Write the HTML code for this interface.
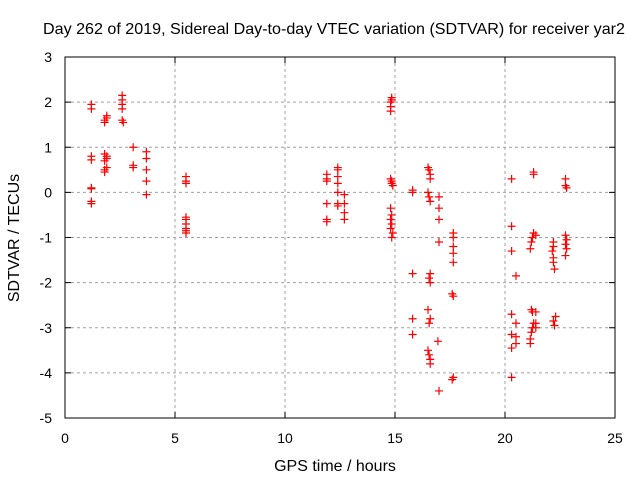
<!DOCTYPE html>
<html><head><meta charset="utf-8"><style>
body{margin:0;background:#fff}
svg text{font-family:"Liberation Sans",sans-serif;font-size:14px;fill:#000}
svg text.big{font-size:16px}
</style></head><body>
<svg id="c" width="640" height="480">
<text class="big" x="334" y="34" text-anchor="middle" textLength="582" lengthAdjust="spacingAndGlyphs">Day 262 of 2019, Sidereal Day-to-day VTEC variation (SDTVAR) for receiver yar2</text>
<text class="big" x="335" y="471" text-anchor="middle">GPS time / hours</text>
<text class="big" transform="translate(19,238) rotate(-90)" text-anchor="middle">SDTVAR / TECUs</text>
<g id="grid"></g><g id="ticks"></g><g id="pts"></g>
<rect x="65" y="57" width="550" height="361" fill="none" stroke="#000" stroke-width="1"/>
</svg>
<script>
const xTicks=[0,5,10,15,20,25];
const yTicks=[3,2,1,0,-1,-2,-3,-4,-5];
const xs=[1.2,1.2,1.2,1.2,1.2,1.2,1.2,1.2,
1.8,1.8,1.9,1.9,1.8,1.9,1.8,1.9,1.8,1.8,1.9,
2.6,2.6,2.6,2.6,2.6,2.65,
3.1,3.1,3.1,
3.7,3.7,3.7,3.7,3.7,
5.5,5.5,5.5,5.5,5.5,5.5,5.5,5.5,5.5,
11.9,11.9,11.9,11.9,11.9,11.9,
12.4,12.4,12.4,12.4,12.4,12.4,12.4,
12.7,12.7,12.7,12.7,
14.85,14.85,14.8,14.8,14.8,14.8,14.85,14.85,14.9,14.8,14.85,14.8,14.85,14.8,14.9,14.85,
15.8,15.8,15.8,15.8,15.8,
16.5,16.55,16.6,16.6,16.5,16.55,16.6,16.6,16.55,16.6,16.5,16.6,16.55,16.5,16.55,16.6,16.6,
17.0,17.0,17.0,17.0,16.95,17.0,
17.65,17.65,17.65,17.65,17.65,17.6,17.65,17.65,17.6,
20.3,20.3,20.3,20.3,20.3,20.3,20.3,
20.5,20.5,20.5,20.5,
21.3,21.3,21.3,21.25,21.2,21.15,21.2,21.25,21.3,21.25,21.2,21.15,21.15,
21.4,21.4,21.4,21.4,
22.2,22.2,22.15,22.2,22.2,22.25,22.3,22.2,22.25,
22.75,22.75,22.8,22.75,22.8,22.75,22.8,22.75];
const ys=[1.95,1.85,0.8,0.72,0.1,0.08,-0.2,-0.25,
1.55,1.6,1.65,1.7,0.85,0.75,0.7,0.55,0.5,0.45,0.8,
2.15,2.05,1.95,1.85,1.6,1.55,
1.0,0.6,0.55,
0.9,0.75,0.5,0.25,-0.05,
0.35,0.25,0.2,-0.55,-0.6,-0.7,-0.8,-0.85,-0.9,
0.4,0.3,0.25,-0.25,-0.6,-0.65,
0.55,0.5,0.35,0.2,0,-0.25,-0.3,
-0.05,-0.25,-0.45,-0.6,
2.1,2.05,2.0,1.9,1.8,0.3,0.25,0.2,0.15,-0.35,-0.5,-0.6,-0.7,-0.8,-0.9,-1.0,
0.05,0.0,-1.8,-2.8,-3.15,
0.55,0.5,0.4,0.3,0.0,-0.1,-0.2,-1.8,-1.9,-2.0,-2.6,-2.8,-2.9,-3.5,-3.6,-3.7,-3.8,
-0.1,-0.35,-0.6,-1.1,-3.3,-4.4,
-0.9,-1.0,-1.2,-1.35,-1.55,-2.25,-2.3,-4.1,-4.15,
0.3,-0.75,-1.3,-2.7,-3.15,-3.45,-4.1,
-1.85,-2.9,-3.2,-3.35,
0.4,0.45,-0.9,-1.0,-1.1,-1.25,-2.6,-2.65,-2.9,-3.0,-3.1,-3.25,-3.35,
-0.95,-2.65,-2.9,-3.0,
-1.1,-1.2,-1.3,-1.45,-1.55,-1.7,-2.75,-2.85,-2.95,
0.3,0.15,0.1,-0.95,-1.05,-1.15,-1.25,-1.4];
const X=h=>65+h*22, Y=v=>57+(3-v)*45.125;
const NS='http://www.w3.org/2000/svg';
function mk(tag,a,p){const e=document.createElementNS(NS,tag);for(const k in a)e.setAttribute(k,a[k]);document.getElementById(p).appendChild(e);return e;}
xTicks.forEach(t=>{
 if(t>0&&t<25){const g=mk('line',{x1:X(t),x2:X(t),y1:57,y2:418,stroke:'#a0a0a0','stroke-dasharray':'3,3'},'grid');
 
 }
 mk('line',{x1:X(t),x2:X(t),y1:418,y2:412,stroke:'#000'},'ticks');
 mk('line',{x1:X(t),x2:X(t),y1:57,y2:63,stroke:'#000'},'ticks');
 const l=mk('text',{x:X(t),y:443,'text-anchor':'middle'},'ticks');l.textContent=t;
 
 
});
yTicks.forEach(t=>{
 if(t<3&&t>-5){const g=mk('line',{x1:65,x2:615,y1:Y(t),y2:Y(t),stroke:'#a0a0a0','stroke-dasharray':'3,3'},'grid');
 
 }
 mk('line',{x1:65,x2:71,y1:Y(t),y2:Y(t),stroke:'#000'},'ticks');
 mk('line',{x1:609,x2:615,y1:Y(t),y2:Y(t),stroke:'#000'},'ticks');
 const l=mk('text',{x:52,y:Y(t)+5,'text-anchor':'end'},'ticks');l.textContent=t;
 
 
});
xs.forEach((h,i)=>{const x=X(h),y=Y(ys[i]);
 const p=mk('path',{d:`M${x-4},${y}H${x+4}M${x},${y-4}V${y+4}`,stroke:'#f00','stroke-width':1.2,fill:'none'},'pts');
 
 
});
</script>
</body></html>
